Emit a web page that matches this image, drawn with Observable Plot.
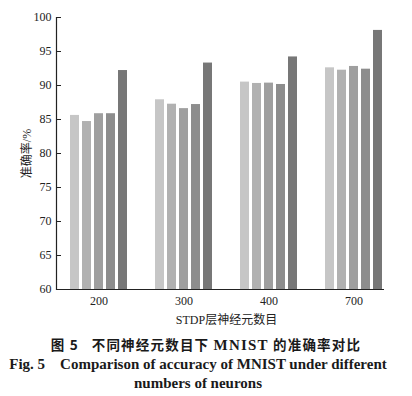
<!DOCTYPE html>
<html>
<head>
<meta charset="utf-8">
<script src="https://cdn.jsdelivr.net/npm/d3@7"></script>
<script src="https://cdn.jsdelivr.net/npm/@observablehq/plot@0.6"></script>
<style>
  body { margin: 0; background: #fff; }
  #chart svg { display: block; }
  .cap { width: 412px; text-align: center; font-weight: bold; color: #1a1a1a; line-height: 19px; }
  .cap1 { font-family: "Noto Sans CJK SC", "Liberation Serif", sans-serif; font-size: 13.5px; letter-spacing: 1.2px; }
  .cap2 { font-family: "Liberation Serif", serif; font-size: 15px; margin-left: -8px; }
</style>
</head>
<body>
<div id="chart"></div>
<div class="cap cap1">图 5&nbsp;&nbsp;&nbsp;不同神经元数目下 <span style="font-family:'Liberation Serif'; font-size:15px">MNIST</span> 的准确率对比</div>
<div class="cap cap2">Fig. 5&nbsp;&nbsp;&nbsp; Comparison of accuracy of MNIST under different<br>numbers of neurons</div>
<script>
const groups = ["200", "300", "400", "700"];
const seriesNames = ["s1", "s2", "s3", "s4", "s5"];
const s1 = [85.6, 87.9, 90.5, 92.6];
const s2 = [84.7, 87.25, 90.3, 92.25];
const s3 = [85.85, 86.6, 90.35, 92.8];
const s4 = [85.85, 87.2, 90.15, 92.4];
const s5 = [92.2, 93.3, 94.2, 98.1];
const colors = ["#c6c6c6", "#b1b1b1", "#9f9f9f", "#8d8d8d", "#777777"];
const yTicks = [60, 65, 70, 75, 80, 85, 90, 95, 100];
const yLabel = "准确率/%";
const xLabel = "STDP层神经元数目";

const allSeries = [s1, s2, s3, s4, s5];
const data = [];
groups.forEach((g, i) => {
  allSeries.forEach((s, j) => data.push({group: g, series: seriesNames[j], value: s[i]}));
});
const baseInner = groups.slice(0, -1).map(g => ({fx: g}));
const baseLast = groups.slice(-1).map(g => ({fx: g}));

const chart = Plot.plot({
  width: 412,
  height: 335,
  marginTop: 17,
  marginBottom: 46,
  marginLeft: 56,
  marginRight: 16,
  style: {fontFamily: "'Liberation Serif', 'Noto Sans CJK SC', serif", fontSize: "12px", color: "#222"},
  fx: {domain: groups, padding: 0},
  x: {domain: seriesNames, paddingInner: 0.23, paddingOuter: 0.885, axis: null},
  y: {domain: [60, 100]},
  color: {domain: seriesNames, range: colors},
  marks: [
    Plot.barY(data, {fx: "group", x: "series", y1: 60, y2: "value", fill: "series"}),
    Plot.ruleY(baseInner, {fx: "fx", y: () => 60, stroke: "#222", strokeWidth: 1.2}),
    Plot.ruleY(baseLast, {fx: "fx", y: () => 60, insetRight: 12, stroke: "#222", strokeWidth: 1.2}),
    Plot.frame({anchor: "left", facetAnchor: "left", stroke: "#222", strokeWidth: 1.2}),
    Plot.tickY(yTicks, {y: d => d, facetAnchor: "left", insetRight: 80, stroke: "#222"}),
    Plot.axisY({ticks: yTicks, tickSize: 0, tickPadding: 5,
      label: yLabel, labelAnchor: "center", labelArrow: "none", labelOffset: 34}),
    Plot.axisFx({anchor: "bottom", tickSize: 0, tickPadding: 7, label: xLabel,
      labelAnchor: "center", labelArrow: "none", labelOffset: 34})
  ]
});
document.getElementById("chart").appendChild(chart);
</script>
</body>
</html>
